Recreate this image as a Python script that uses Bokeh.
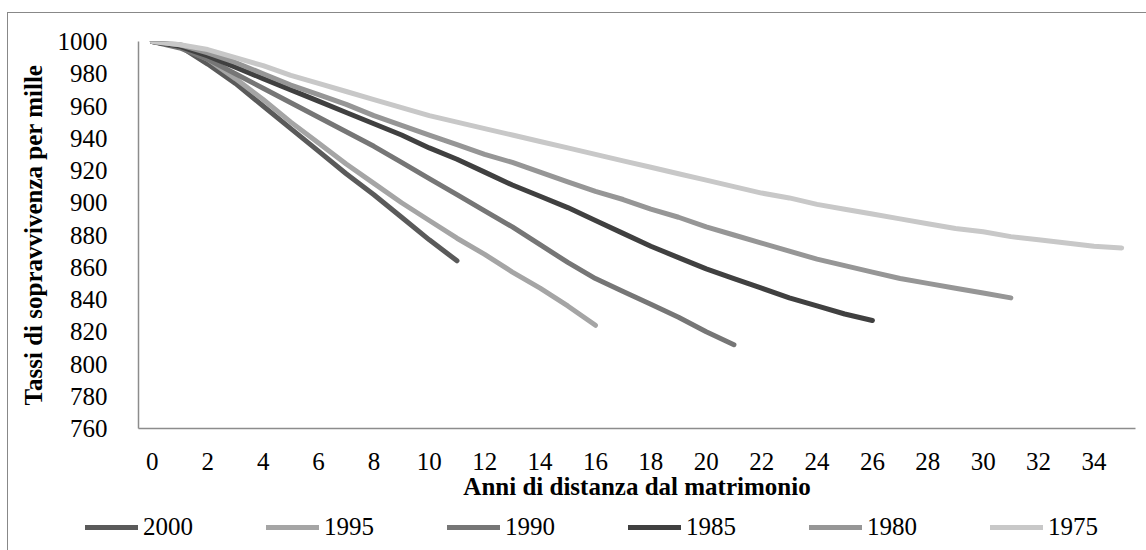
from bokeh.plotting import figure
from bokeh.models import Range1d, FixedTicker, Legend, LegendItem
from bokeh.layouts import column
from bokeh.embed import file_html
from bokeh.resources import INLINE

# ---- data ----
series_names = ["2000", "1995", "1990", "1985", "1980", "1975"]
s2000 = [1000, 997, 986, 974, 960, 946, 932, 918, 905, 891, 877, 864]
s1995 = [1000, 997, 989, 977, 964, 950, 937, 924, 912, 900, 889, 878, 868, 857, 847, 836, 824]
s1990 = [1000, 996, 989, 980, 971, 962, 953, 944, 935, 925, 915, 905, 895, 885, 874, 863, 853,
         845, 837, 829, 820, 812]
s1985 = [1000, 997, 991, 984, 977, 970, 963, 956, 949, 942, 934, 927, 919, 911, 904, 897, 889,
         881, 873, 866, 859, 853, 847, 841, 836, 831, 827]
s1980 = [1000, 998, 993, 987, 980, 973, 967, 961, 954, 948, 942, 936, 930, 925, 919, 913, 907,
         902, 896, 891, 885, 880, 875, 870, 865, 861, 857, 853, 850, 847, 844, 841]
s1975 = [1000, 998, 995, 990, 985, 979, 974, 969, 964, 959, 954, 950, 946, 942, 938, 934, 930,
         926, 922, 918, 914, 910, 906, 903, 899, 896, 893, 890, 887, 884, 882, 879, 877, 875,
         873, 872]
series_values = [s2000, s1995, s1990, s1985, s1980, s1975]
colors = ["#5a5a5a", "#a5a5a5", "#767676", "#404040", "#969696", "#c8c8c8"]
x_ticks = list(range(0, 35, 2))
y_ticks = list(range(760, 1001, 20))
x_title = "Anni di distanza dal matrimonio"
y_title = "Tassi di sopravvivenza per mille"

FONT = "Liberation Serif"
LW = 5

# ---- main chart ----
p = figure(width=1138, height=494, output_backend="svg", toolbar_location=None,
           x_range=Range1d(-0.5, 35.5), y_range=Range1d(760, 1000),
           min_border_left=130, min_border_top=28, min_border_right=11,
           min_border_bottom=79)
p.margin = 0
p.frame_align = False
p.outline_line_color = None
p.xgrid.visible = False
p.ygrid.visible = False

for ax in (p.xaxis, p.yaxis):
    ax.axis_line_color = "#8c8c8c"
    ax.axis_line_width = 1.5
    ax.major_tick_line_color = None
    ax.minor_tick_line_color = None
    ax.major_label_text_font = FONT
    ax.major_label_text_font_size = "25px"
    ax.major_label_text_color = "#000000"
    ax.axis_label_text_font = FONT
    ax.axis_label_text_font_size = "25px"
    ax.axis_label_text_font_style = "bold"
    ax.axis_label_text_color = "#000000"

p.xaxis.ticker = FixedTicker(ticks=x_ticks)
p.yaxis.ticker = FixedTicker(ticks=y_ticks)
p.xaxis.axis_label = x_title
p.yaxis.axis_label = y_title
p.xaxis.major_label_standoff = 18
p.xaxis.axis_label_standoff = 0
p.yaxis.major_label_standoff = 25
p.yaxis.axis_label_standoff = 8

for name, vals, col in zip(series_names, series_values, colors):
    xs = list(range(len(vals)))
    p.line(xs, vals, line_color=col, line_width=LW, line_cap="round", line_join="round")

# ---- legend strip ----
q = figure(width=1138, height=43, output_backend="svg", toolbar_location=None,
           x_range=Range1d(0, 1), y_range=Range1d(0, 1),
           x_axis_type=None, y_axis_type=None,
           min_border_left=0, min_border_right=0, min_border_top=0, min_border_bottom=0)
q.margin = 0
q.frame_align = False
q.outline_line_color = None
q.xgrid.visible = False
q.ygrid.visible = False

items = []
for name, vals, col in zip(series_names, series_values, colors):
    xs = list(range(len(vals)))
    r = q.line(xs, vals, line_color=col, line_width=LW, line_cap="round")
    items.append(LegendItem(label=name, renderers=[r]))

legend = Legend(items=items, orientation="horizontal", location=(77, 9),
                glyph_width=53, glyph_height=20, label_standoff=5, label_width=123,
                spacing=0, padding=0, margin=0,
                label_text_font=FONT, label_text_font_size="25px",
                label_text_color="#000000",
                border_line_color=None, background_fill_alpha=0)
q.add_layout(legend, "center")

layout = column(p, q, spacing=0)
layout.margin = (12, 0, 0, 7)
layout.styles = {"border-top": "1px solid #888888", "border-left": "1px solid #888888"}

open("out.html", "w").write(file_html(layout, INLINE))
